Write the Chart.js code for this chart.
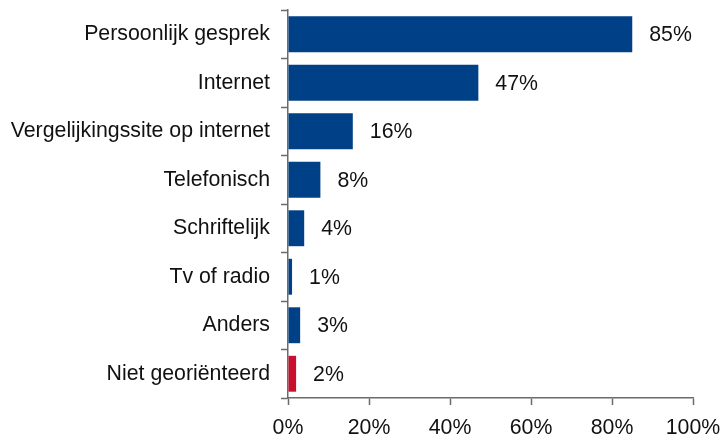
<!DOCTYPE html>
<html>
<head>
<meta charset="utf-8">
<script src="https://cdn.jsdelivr.net/npm/chart.js@4/dist/chart.umd.min.js"></script>
<style>
  html, body { margin: 0; padding: 0; background: #fff; }
  #wrap { width: 726px; height: 435px; position: relative; }
</style>
</head>
<body>
<div id="wrap"><canvas id="c"></canvas></div>
<script>
// Oriëntatiekanalen (aandeel respondenten, %)
const categories = [
  'Persoonlijk gesprek',
  'Internet',
  'Vergelijkingssite op internet',
  'Telefonisch',
  'Schriftelijk',
  'Tv of radio',
  'Anders',
  'Niet georiënteerd'
];
const percentages = [85, 47, 16, 8, 4, 1, 3, 2];
const xTicks = [0, 20, 40, 60, 80, 100];

const BLUE = '#004087';
const RED = '#C8102E';
const barColors = categories.map((c, i) => i === categories.length - 1 ? RED : BLUE);

const FONT = { family: '"Liberation Sans", Arial, sans-serif', size: 21.3 };
const AXIS = '#6b6b6b';

// Percentage labels at the end of each bar
const valueLabels = {
  id: 'valueLabels',
  afterDatasetsDraw(chart) {
    const ctx = chart.ctx;
    const meta = chart.getDatasetMeta(0);
    ctx.save();
    ctx.font = FONT.size + 'px ' + FONT.family;
    ctx.fillStyle = '#111';
    ctx.textAlign = 'left';
    ctx.textBaseline = 'middle';
    meta.data.forEach((bar, i) => {
      ctx.fillText(percentages[i] + '%', bar.x + 17, bar.y + 1);
    });
    ctx.restore();
  }
};

new Chart(document.getElementById('c'), {
  type: 'bar',
  data: {
    labels: categories,
    datasets: [{
      data: percentages,
      backgroundColor: barColors,
      borderWidth: 0,
      barPercentage: 0.74,
      categoryPercentage: 1.0
    }]
  },
  options: {
    indexAxis: 'y',
    responsive: true,
    maintainAspectRatio: false,
    animation: false,
    layout: { padding: { top: 10, right: 33, left: 0, bottom: 0 } },
    plugins: {
      legend: { display: false },
      tooltip: { enabled: false }
    },
    scales: {
      x: {
        min: 0,
        max: 100,
        afterBuildTicks(axis) { axis.ticks = xTicks.map(v => ({ value: v })); },
        afterFit(axis) { axis.height = 37; axis.paddingLeft = 0; axis.paddingRight = 0; },
        grid: {
          drawOnChartArea: false,
          drawTicks: true,
          tickLength: 7,
          tickWidth: 1.5,
          tickColor: AXIS
        },
        border: { display: true, color: AXIS, width: 1.5 },
        ticks: {
          color: '#111',
          font: FONT,
          padding: 10,
          maxRotation: 0,
          callback: v => v + '%'
        }
      },
      y: {
        afterFit(axis) { axis.width = 288; axis.paddingTop = 0; axis.paddingBottom = 0; },
        grid: {
          offset: true,
          drawOnChartArea: false,
          drawTicks: true,
          tickLength: 7,
          tickWidth: 1.5,
          tickColor: AXIS
        },
        border: { display: true, color: AXIS, width: 1.5 },
        ticks: {
          color: '#111',
          font: FONT,
          padding: 11
        }
      }
    }
  },
  plugins: [valueLabels]
});
</script>
</body>
</html>
